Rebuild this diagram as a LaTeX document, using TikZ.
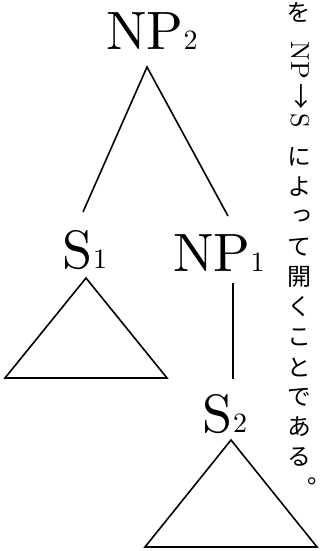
\documentclass[tikz,border=0pt]{standalone}
\usepackage{fontspec}
\newfontfamily\labfont{lmroman10-regular.otf}
\newfontfamily\jfont[RawFeature=+vert]{Noto Sans CJK JP}
\newfontfamily\jfontplain{Noto Sans CJK JP}
\newcommand{\subidx}[1]{{\fontsize{28}{28}\selectfont#1}}

\begin{document}
\begin{tikzpicture}[x=1pt,y=-1pt,line width=1.6pt,
    lab/.style={font=\labfont\fontsize{54}{60}\selectfont,inner sep=0pt,anchor=base},
    kana/.style={font=\jfont\fontsize{24}{24}\selectfont,inner sep=0pt}]
  \useasboundingbox (0,0) rectangle (326,551);
  \clip (0,0) rectangle (326,551);
  \node[lab] (np2) at (152,50) {NP\subidx{2}};
  \node[lab] (s1) at (85,268) {S\subidx{1}};
  \node[lab] (np1) at (219,271) {NP\subidx{1}};
  \node[lab] (s2) at (225,432) {S\subidx{2}};
  \coordinate (np2-foot) at (147,67);
  \coordinate (s1-top) at (83,212);
  \coordinate (np1-top) at (228,216);
  \coordinate (np1-foot) at (233,283);
  \coordinate (s2-top) at (233,379);
  \draw (s1-top) -- (np2-foot) -- (np1-top);
  \draw (np1-foot) -- (s2-top);
  \foreach \x/\y/\w/\h in {86/278/81/100,231/440/86/107}
    \draw (\x,\y) -- ++(-\w,\h) -- ++(2*\w,0) -- cycle;
  \node[kana] (wo) at (298,12) {を};
  \node[rotate=-90,font=\labfont\fontsize{26}{26}\selectfont,inner sep=0pt] (rule) at (300,85)
    {NP\,{\jfontplain →}\,S};
  \foreach \c [count=\i from 0] in {に,よ,っ,て,開,く,こ,と,で,あ,る}
    \node[kana] (k\i) at (299,157+30*\i) {\c};
  \node[kana,font=\jfontplain\fontsize{24}{24}\selectfont] (stop) at (313,477)
    {\raisebox{0pt}[12pt][0pt]{\makebox[12pt][l]{。}}};
\end{tikzpicture}
\end{document}
